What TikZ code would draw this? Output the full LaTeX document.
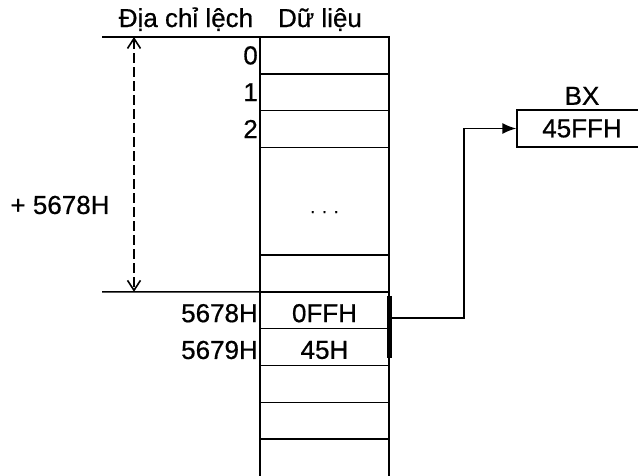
\documentclass[tikz,border=0pt]{standalone}
\usepackage{fontspec}
\setmainfont{Liberation Sans}[RawFeature={embolden=0.6}]
\usepackage{tikz}
\usetikzlibrary{arrows.meta, positioning}
\tikzstyle{cell} = [draw, line width=1.4pt, minimum width=129pt, minimum height=36.8pt, inner sep=0pt, outer sep=0pt]
\tikzstyle{index} = [anchor=east, inner sep=2pt]
\tikzstyle{dimline} = [line width=1.4pt, dash pattern=on 10pt off 4pt, {Straight Barb[length=10pt,width=13pt,line width=1.6pt]}-{Straight Barb[length=10pt,width=13pt,line width=1.6pt]}]
\tikzstyle{arrow} = [line width=1.5pt, -{Latex[length=14pt,width=11pt]}]

\begin{document}
\begin{tikzpicture}[x=1pt, y=-1pt, font=\fontsize{26}{30}\selectfont]
\useasboundingbox (0,0) rectangle (638,475);

% column of memory cells
\node[cell] (r0) at (324.5,55.4) {};
\node[cell, below=0pt of r0] (r1) {};
\node[cell, below=0pt of r1] (r2) {};
\node[cell, below=0pt of r2, minimum height=107.6pt] (r3) {};
\node[cell, below=0pt of r3] (r4) {};
\node[cell, below=0pt of r4] (r5) {};
\node[cell, below=0pt of r5] (r6) {};
\node[cell, below=0pt of r6] (r7) {};
\node[cell, below=0pt of r7] (r8) {};
\draw[line width=1.4pt] (r8.south west) -- ++(0,40);
\draw[line width=1.4pt] (r8.south east) -- ++(0,40);
\node[font=\fontsize{18}{20}\selectfont] (dots) at ([yshift=-11pt]r3.center) {. . .};
\node (v5) at ([yshift=-3pt]r5.center) {0FFH};
\node (v6) at ([yshift=-3pt]r6.center) {45H};

% headings
\node[anchor=base] (offs) at (186,27) {Địa chỉ lệch};
\node[anchor=base] (data) at (320,27) {Dữ liệu};

% offsets
\node[index] (i0) at (r0.west) {0};
\node[index] (i1) at (r1.west) {1};
\node[index] (i2) at (r2.west) {2};
\node[index, yshift=-3pt] (a5) at (r5.west) {5678H};
\node[index, yshift=-3pt] (a6) at (r6.west) {5679H};

% displacement
\coordinate (topl) at (102,37);
\coordinate (basel) at (102,291.8);
\draw[line width=1.4pt] (r0.north west) -- (topl);
\draw[line width=1.4pt] (r5.north west) -- (basel);
\coordinate (dtop) at (134,37);
\coordinate (dbot) at (134,291.8);
\draw[dimline] (dtop) -- (dbot);
\node (disp) at (60,205) {+ 5678H};

% word read into BX
\draw[line width=5pt] ([yshift=-4pt]r5.north east) -- ([yshift=7pt]r6.south east);
\node[draw, line width=1.4pt, minimum width=130pt, minimum height=37pt, inner sep=0pt] (bx) at (582,128.5) {45FFH};
\node[above=1pt of bx] (bxname) {BX};
\draw[arrow] ([yshift=-8pt]r5.east) -- ++(75,0) |- (bx.west);
\end{tikzpicture}
\end{document}
